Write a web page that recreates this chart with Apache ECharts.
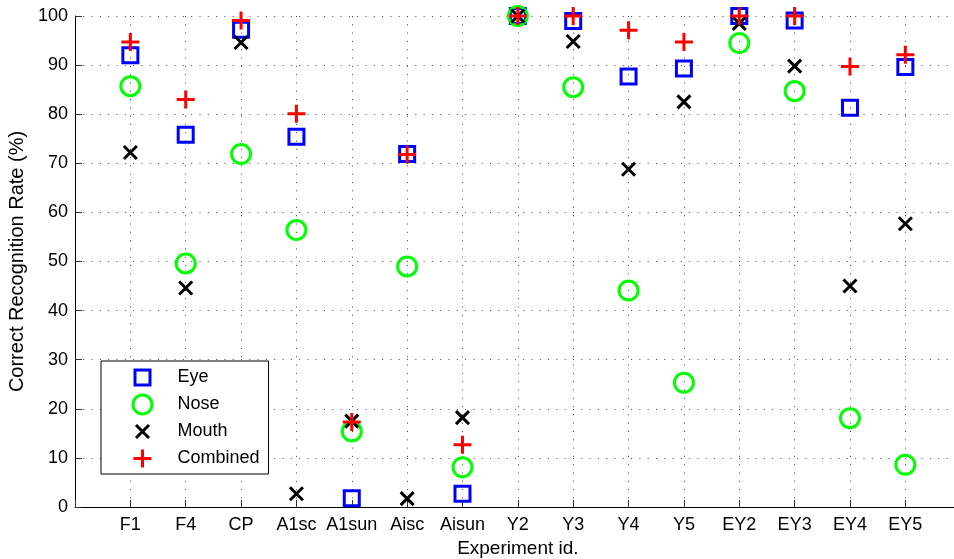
<!DOCTYPE html>
<html>
<head>
<meta charset="utf-8">
<title>Correct Recognition Rate by Experiment</title>
<script src="https://cdn.jsdelivr.net/npm/echarts@6/dist/echarts.min.js"></script>
<style>
  html, body { margin: 0; padding: 0; background: #fff; }
  #chart { width: 954px; height: 559px; }
</style>
</head>
<body>
<div id="chart"></div>
<script>
// Experiment ids along the x axis
const categories = ['F1', 'F4', 'CP', 'A1sc', 'A1sun', 'Aisc', 'Aisun', 'Y2', 'Y3', 'Y4', 'Y5', 'EY2', 'EY3', 'EY4', 'EY5'];

// Correct recognition rate (%) per feature
const eye      = [92.0, 75.8, 97.2, 75.4, 1.8, 71.9, 2.7, 100, 99.0, 87.7, 89.3, 100, 99.1, 81.3, 89.6];
const nose     = [85.7, 49.6, 71.9, 56.4, 15.4, 49.0, 8.1, 100, 85.5, 44.1, 25.3, 94.5, 84.7, 18.1, 8.6];
const mouth    = [72.2, 44.6, 94.6, 2.7, 17.5, 1.7, 18.2, 100, 94.8, 68.8, 82.5, 98.5, 89.8, 45.0, 57.7];
const combined = [94.7, 83.0, 99.1, 80.1, 17.3, 71.8, 12.7, 100, 100, 97.1, 94.7, 100, 100, 89.7, 92.1];

const seriesNames = ['Eye', 'Nose', 'Mouth', 'Combined'];

// y axis ticks
const yTicks = [0, 10, 20, 30, 40, 50, 60, 70, 80, 90, 100];

// Marker outlines, all drawn in a common 22-unit frame (the trailing moves fix the frame)
const FRAME = ' M-11,-11 M11,11';
const markers = {
  Eye:      'path://M-7.5,-7.5 L7.5,-7.5 L7.5,7.5 L-7.5,7.5 Z' + FRAME,
  Nose:     'path://M-9.5,0 A9.5,9.5 0 1,1 9.5,0 A9.5,9.5 0 1,1 -9.5,0 Z' + FRAME,
  Mouth:    'path://M-6.5,-6.5 L6.5,6.5 M6.5,-6.5 L-6.5,6.5' + FRAME,
  Combined: 'path://M0,-9 L0,9 M-9,0 L9,0' + FRAME
};
const colors = { Eye: '#0000ff', Nose: '#00ff00', Mouth: '#000000', Combined: '#ff0000' };
const values = { Eye: eye, Nose: nose, Mouth: mouth, Combined: combined };

// pad the category axis with an empty slot on each side
const axisCats = [''].concat(categories, ['']);

const FONT = '"Liberation Sans", Arial, Helvetica, sans-serif';
const dotted = { color: '#444', width: 1, type: [1, 7.3] };

const chart = echarts.init(document.getElementById('chart'), null, { renderer: 'canvas' });

chart.setOption({
  animation: false,
  backgroundColor: '#fff',
  textStyle: { fontFamily: FONT, color: '#000' },
  grid: { left: 75, top: 16, width: 885.7, height: 491, containLabel: false, outerBoundsMode: 'none' },
  legend: {
    orient: 'vertical',
    left: 101,
    top: 361,
    padding: [4, 9, 3, 29],
    itemWidth: 22,
    itemHeight: 22,
    itemGap: 2,
    backgroundColor: '#fff',
    borderColor: '#000',
    borderWidth: 1,
    borderRadius: 0,
    itemStyle: { borderWidth: 3 },
    textStyle: { fontFamily: FONT, fontSize: 18, color: '#000', padding: [0, 0, 0, 19] },
    data: seriesNames.map(n => ({ name: n, icon: markers[n] }))
  },
  xAxis: {
    type: 'category',
    data: axisCats,
    boundaryGap: false,
    name: 'Experiment id.',
    nameLocation: 'middle',
    nameGap: 32,
    nameTextStyle: { fontFamily: FONT, fontSize: 19, color: '#000' },
    axisLine: { show: true, lineStyle: { color: '#000', width: 1 } },
    axisTick: { show: true, inside: true, length: 7, interval: 0, lineStyle: { color: '#333' } },
    axisLabel: { interval: 0, margin: 9, fontFamily: FONT, fontSize: 18, color: '#000' },
    splitLine: { show: true, interval: 0, lineStyle: dotted }
  },
  yAxis: {
    type: 'value',
    min: yTicks[0],
    max: yTicks[yTicks.length - 1],
    interval: 10,
    name: 'Correct Recognition Rate (%)',
    nameLocation: 'middle',
    nameGap: 43,
    nameRotate: 90,
    nameTextStyle: { fontFamily: FONT, fontSize: 20, color: '#000' },
    axisLine: { show: true, lineStyle: { color: '#000', width: 1 } },
    axisTick: { show: true, inside: true, length: 7, lineStyle: { color: '#333' } },
    axisLabel: { margin: 7, fontFamily: FONT, fontSize: 18, color: '#000' },
    splitLine: { show: true, lineStyle: dotted }
  },
  series: seriesNames.map(n => ({
    name: n,
    type: 'scatter',
    symbol: markers[n],
    symbolSize: 22,
    itemStyle: { color: 'transparent', borderColor: colors[n], borderWidth: 3, opacity: 1 },
    emphasis: { disabled: true },
    data: categories.map((c, i) => [c, values[n][i]])
  }))
});
</script>
</body>
</html>
